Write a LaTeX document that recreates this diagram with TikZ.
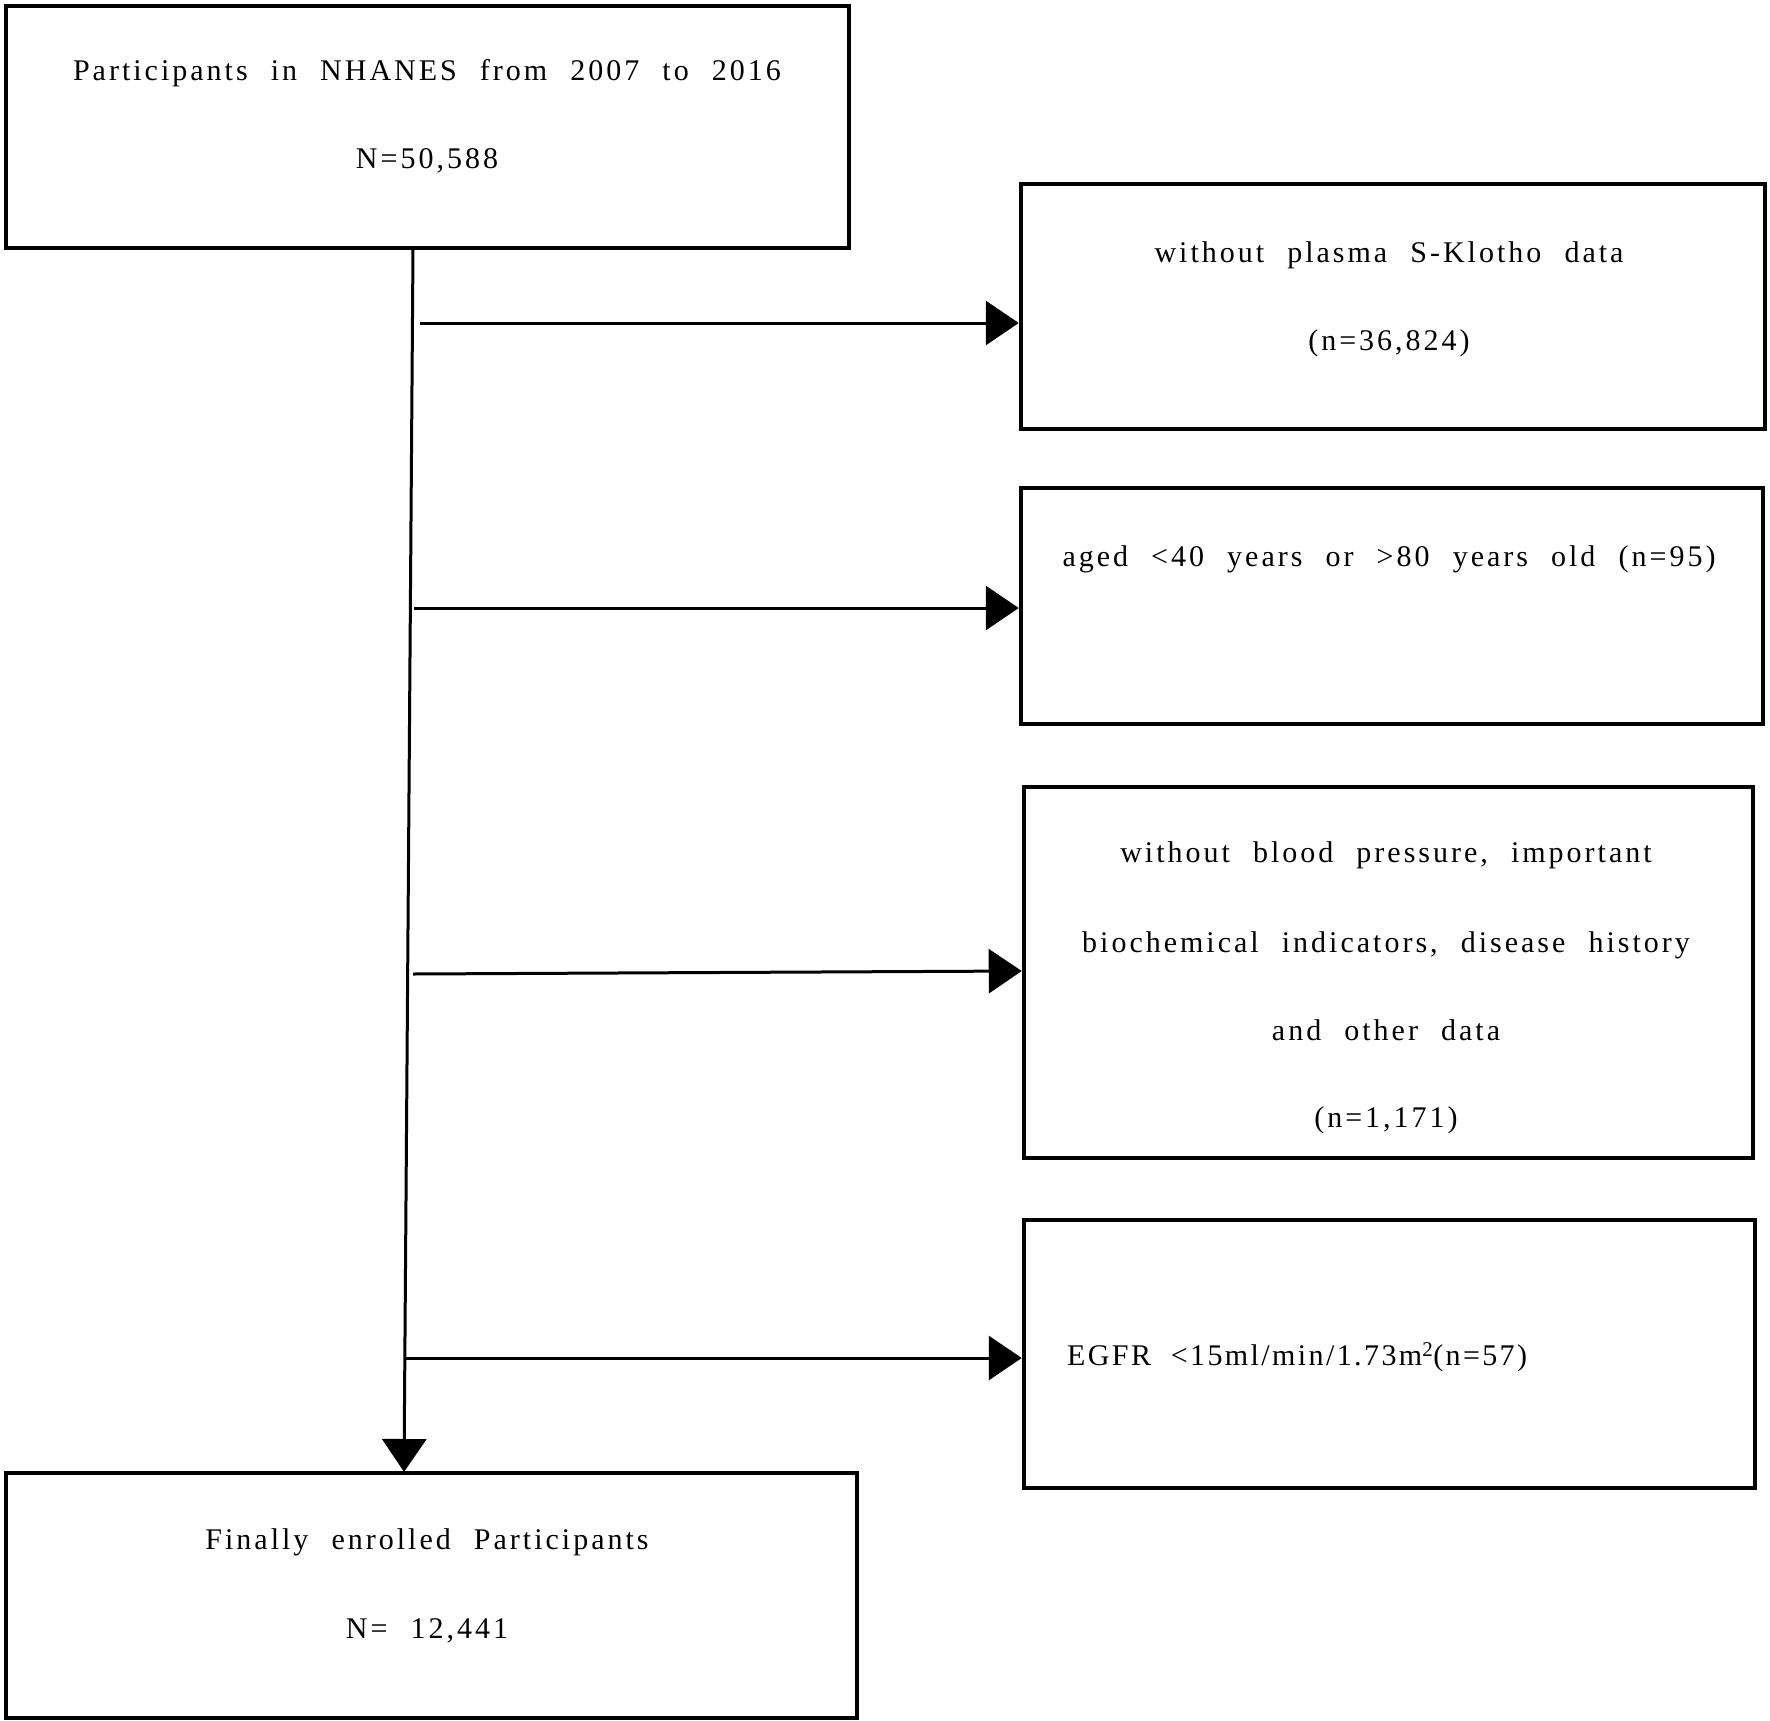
\documentclass[tikz,border=0pt]{standalone}
\usepackage{fontspec}
\setmainfont{Liberation Serif}[LetterSpace=10,WordSpace=2.2]
\newfontfamily\plainfont{Liberation Serif}[LetterSpace=8]
\usetikzlibrary{arrows.meta}
\tikzset{
  box/.style={draw, line width=4.5pt},
  lbl/.style={inner sep=0pt, font=\fontsize{30}{34}\selectfont},
  flow/.style={line width=3pt, -{Triangle[length=33pt,width=44pt]}},
}
\begin{document}
\begin{tikzpicture}[x=1pt,y=-1pt]
\useasboundingbox (0,0) rectangle (1770,1721);
% boxes
\node[box, minimum width=843pt, minimum height=242pt] (b1) at (427.5,127) {};
\node[box, minimum width=744pt, minimum height=245pt] (b2) at (1393,306.5) {};
\node[box, minimum width=742pt, minimum height=236pt] (b3) at (1392,606) {};
\node[box, minimum width=729pt, minimum height=371pt] (b4) at (1388.5,972.5) {};
\node[box, minimum width=731pt, minimum height=268pt] (b5) at (1389.5,1354) {};
\node[box, minimum width=851pt, minimum height=245pt] (b6) at (431.5,1595.5) {};
% texts
\node[lbl] (t1a) at (427,73) {Participants in NHANES from 2007 to 2016};
\node[lbl] (t1b) at (427,161) {N=50,588};
\node[lbl] (t2a) at (1389,255) {without plasma S-Klotho data};
\node[lbl] (t2b) at (1389,343) {(n=36,824)};
\node[lbl] (t3) at (1389,559) {aged <40 years or >80 years old (n=95)};
\node[lbl] (t4a) at (1386,855) {without blood pressure, important};
\node[lbl] (t4b) at (1386,945) {biochemical indicators, disease history};
\node[lbl] (t4c) at (1386,1030) {and other data};
\node[lbl] (t4d) at (1386,1120) {(n=1,171)};
\node[lbl, anchor=west, font=\plainfont\fontsize{30}{34}\selectfont] (t5) at (1067,1357) {EGFR\ \ <15ml/min/1.73m\textsuperscript{2}(n=57)};
\node[lbl] (t6a) at (427,1542) {Finally enrolled Participants};
\node[lbl] (t6b) at (427,1631) {N= 12,441};
% connectors
\coordinate (top) at (413,249);
\coordinate (bot) at (404,1472);
\coordinate (s1) at (420,323);
\coordinate (s2) at (414,608);
\coordinate (s3) at (413,974);
\coordinate (s4) at (406,1358);
\draw[flow] (top) -- (bot);
\draw[flow] (s1) -- (s1 -| b2.west);
\draw[flow] (s2) -- (s2 -| b3.west);
\draw[flow] (s3) -- (b4.west |- 0,971);
\draw[flow] (s4) -- (s4 -| b5.west);
\end{tikzpicture}
\end{document}
